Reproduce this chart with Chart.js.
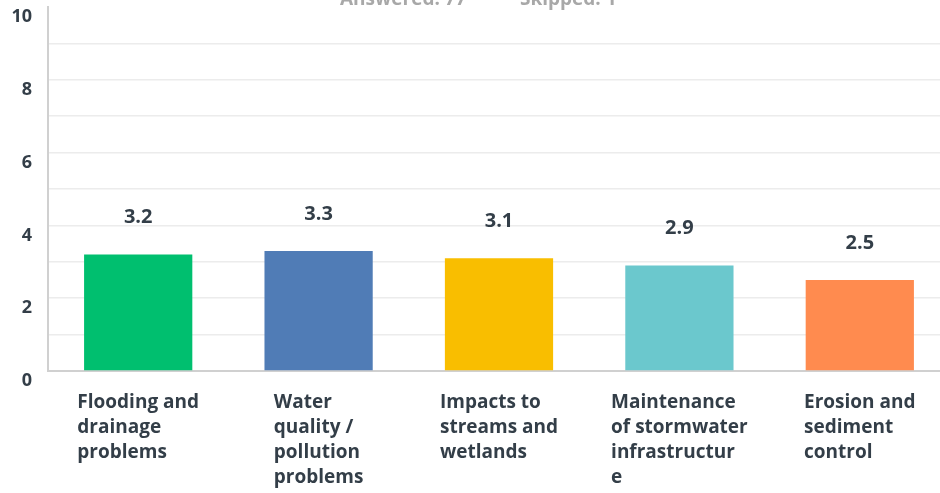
<!DOCTYPE html>
<html lang="en">
<head>
    <meta charset="UTF-8">
    <title>Stormwater concerns</title>
    <script src="https://cdn.jsdelivr.net/npm/chart.js"></script>
    <style>
        html, body { margin: 0; padding: 0; background: #fff; overflow: hidden; }
        /* the plot runs a little past the visible right edge */
        #wrap { position: relative; width: 950px; height: 493px; }
    </style>
</head>
<body>
    <div id="wrap">
        <canvas id="concernChart"></canvas>
    </div>
    <script>
    const categories = [
        ['Flooding and', 'drainage', 'problems'],
        ['Water', 'quality /', 'pollution', 'problems'],
        ['Impacts to', 'streams and', 'wetlands'],
        ['Maintenance', 'of stormwater', 'infrastructur', 'e'],
        ['Erosion and', 'sediment', 'control']
    ];
    const averages = [3.2, 3.3, 3.1, 2.9, 2.5];
    const barColors = ['#00bf6f', '#507cb6', '#f9be00', '#6bc8cd', '#ff8b4f'];
    const yTicks = [0, 2, 4, 6, 8, 10];
    const oddLines = [1, 3, 5, 7, 9];
    const answered = 'Answered: 77';
    const skipped = 'Skipped: 1';

    const FONT = '"Open Sans", "DejaVu Sans", sans-serif';
    const DARK = '#333e48';

    // numbers over the bars, kept a fixed distance above each bar top
    const valueLabels = {
        id: 'valueLabels',
        afterDatasetsDraw(chart) {
            const ctx = chart.ctx;
            const meta = chart.getDatasetMeta(0);
            ctx.save();
            ctx.font = 'bold 20px ' + FONT;
            ctx.fillStyle = DARK;
            ctx.textAlign = 'center';
            ctx.textBaseline = 'middle';
            meta.data.forEach((bar, i) => {
                ctx.fillText(averages[i].toFixed(1), bar.x, bar.y - 37);
            });
            ctx.restore();
        }
    };

    // category names: left aligned lines, block centred under the bar
    const categoryLabels = {
        id: 'categoryLabels',
        afterDraw(chart) {
            const ctx = chart.ctx;
            const xScale = chart.scales.x;
            ctx.save();
            ctx.font = 'bold 19px ' + FONT;
            ctx.fillStyle = DARK;
            ctx.textAlign = 'left';
            ctx.textBaseline = 'middle';
            categories.forEach((lines, i) => {
                const cx = xScale.getPixelForValue(i);
                const w = Math.max(...lines.map(l => ctx.measureText(l).width));
                lines.forEach((line, j) => {
                    ctx.fillText(line, cx - w / 2, 403 + j * 25);
                });
            });
            ctx.restore();
        }
    };

    // response counts, partly off the top edge
    const responseCounts = {
        id: 'responseCounts',
        afterDraw(chart) {
            const ctx = chart.ctx;
            ctx.save();
            ctx.font = 'bold 19px ' + FONT;
            ctx.fillStyle = '#a8a8a8';
            ctx.textBaseline = 'alphabetic';
            ctx.textAlign = 'left';
            ctx.fillText(answered, 340, 5);
            ctx.fillText(skipped, 520, 5);
            ctx.restore();
        }
    };

    document.addEventListener('DOMContentLoaded', function() {
        new Chart(document.getElementById('concernChart').getContext('2d'), {
            type: 'bar',
            data: {
                labels: categories.map(c => c.join(' ')),
                datasets: [{
                    data: averages,
                    backgroundColor: barColors,
                    borderWidth: 0,
                    barPercentage: 0.6,
                    categoryPercentage: 1
                }]
            },
            options: {
                responsive: true,
                maintainAspectRatio: false,
                animation: false,
                layout: {
                    autoPadding: false,
                    padding: { top: 7, right: 0, bottom: 122, left: 0 }
                },
                plugins: {
                    legend: { display: false },
                    tooltip: { enabled: false }
                },
                scales: {
                    x: {
                        grid: { display: false, drawTicks: false },
                        border: { display: true, color: '#d0d0d0', width: 2 },
                        ticks: { display: false }
                    },
                    y: {
                        min: 0,
                        max: 10,
                        afterFit: s => {
                            s.width = 48;
                            s.paddingTop = 0;
                            s.paddingBottom = 0;
                        },
                        afterBuildTicks: s => {
                            s.ticks = yTicks.map(v => ({ value: v }));
                        },
                        grid: {
                            drawTicks: false,
                            color: c => (c.tick && c.tick.value === 10) ? 'rgba(0,0,0,0)' : '#ececec',
                            lineWidth: 1.5
                        },
                        border: { display: true, color: '#d0d0d0', width: 2 },
                        ticks: {
                            padding: 16,
                            labelOffset: 10,
                            color: DARK,
                            font: { family: FONT, size: 18, weight: 'bold' }
                        }
                    },
                    yMinor: {
                        // unlabelled lines at the odd values
                        type: 'linear',
                        display: true,
                        position: 'left',
                        min: 0,
                        max: 10,
                        afterFit: s => {
                            s.width = 0;
                            s.paddingTop = 0;
                            s.paddingBottom = 0;
                        },
                        afterBuildTicks: s => {
                            s.ticks = oddLines.map(v => ({ value: v }));
                        },
                        grid: { drawTicks: false, color: '#ececec', lineWidth: 1.5 },
                        border: { display: false },
                        ticks: { display: false }
                    }
                }
            },
            plugins: [valueLabels, categoryLabels, responseCounts]
        });
    });
    </script>
</body>
</html>
